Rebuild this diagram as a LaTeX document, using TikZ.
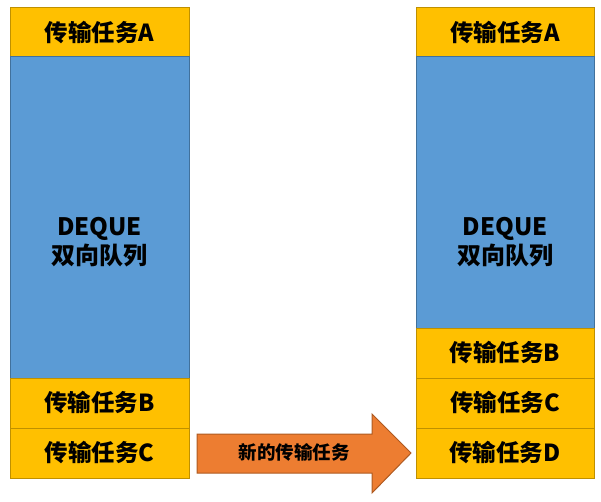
\documentclass[tikz,border=0pt]{standalone}
\usepackage{fontspec}
\setmainfont{Noto Sans CJK SC}
\definecolor{taskfill}{HTML}{FFC000}
\definecolor{taskline}{HTML}{BF9000}
\definecolor{qfill}{HTML}{5B9BD5}
\definecolor{qline}{HTML}{41719C}
\definecolor{afill}{HTML}{ED7D31}
\definecolor{aline}{HTML}{AE5A21}
\begin{document}
\begin{tikzpicture}[x=1pt,y=-1pt,
  taskbox/.style={fill=taskfill,draw=taskline,line width=1pt},
  queuebox/.style={fill=qfill,draw=qline,line width=1pt},
  lbl/.style={font=\bfseries\fontsize{23.5}{26}\selectfont,inner sep=0pt},
  qlbl/.style={font=\bfseries\fontsize{24}{29.5}\selectfont,align=center,inner sep=0pt},
  albl/.style={font=\bfseries\fontsize{18.5}{21}\selectfont,inner sep=0pt}]
\useasboundingbox (0,0) rectangle (601,502);
% left column
\draw[taskbox] (10,8) rectangle (189,57);
\draw[queuebox] (10,57) rectangle (189,378);
\draw[taskbox] (10,378) rectangle (189,428);
\draw[taskbox] (10,428) rectangle (189,478);
\node[lbl] (la) at (99.5,32.5) {传输任务A};
\node[qlbl] (lq) at (99.5,242) {DEQUE\\双向队列};
\node[lbl] (lb) at (99.5,403) {传输任务B};
\node[lbl] (lc) at (99.5,453) {传输任务C};
% right column
\draw[taskbox] (416,8) rectangle (594,57);
\draw[queuebox] (416,57) rectangle (594,328);
\draw[taskbox] (416,328) rectangle (594,378);
\draw[taskbox] (416,378) rectangle (594,428);
\draw[taskbox] (416,428) rectangle (594,478);
\node[lbl] (ra) at (505,32.5) {传输任务A};
\node[qlbl] (rq) at (505,242) {DEQUE\\双向队列};
\node[lbl] (rb) at (505,353) {传输任务B};
\node[lbl] (rc) at (505,403) {传输任务C};
\node[lbl] (rd) at (505,453) {传输任务D};
% arrow
\draw[fill=afill,draw=aline,line width=1pt,line join=miter]
  (197,434) -- (372,434) -- (372,414) -- (411,453) -- (372,493) -- (372,473) -- (197,473) -- cycle;
\node[albl] (al) at (294,452.5) {新的传输任务};
\end{tikzpicture}
\end{document}
